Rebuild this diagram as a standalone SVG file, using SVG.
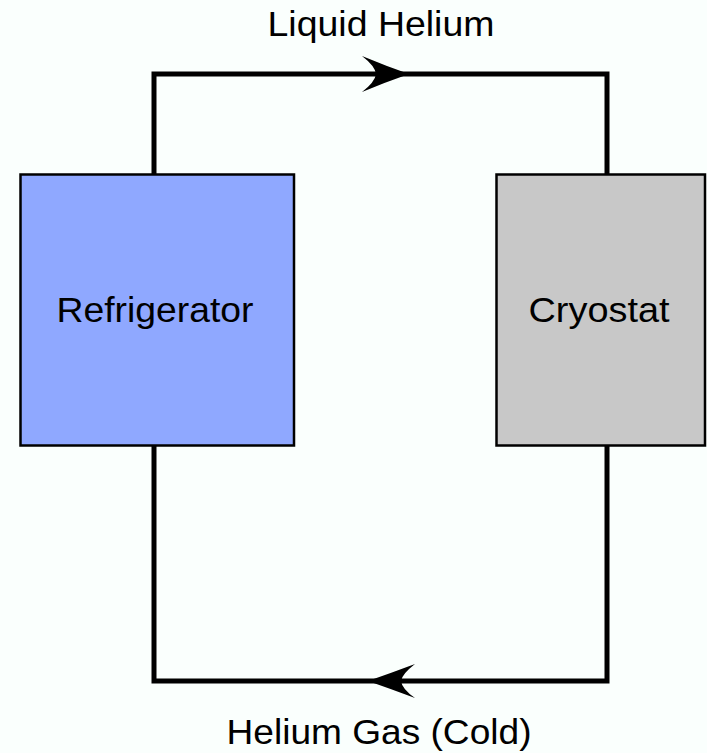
<svg xmlns="http://www.w3.org/2000/svg" width="707" height="753" viewBox="0 0 707 753">
<style>
.lbl{font-family:"Liberation Sans",Arial,Helvetica,sans-serif;font-size:35px;fill:#000;text-anchor:middle}
.box{stroke:#000;stroke-width:2.5}
.pipe{fill:none;stroke:#000;stroke-width:5;stroke-linejoin:miter}
.ah{fill:#000}
</style>
<rect width="707" height="753" fill="#FAFFFD"/>
<g id="connectors">
<path class="pipe" d="M154 174 V74 H607 V174"/>
<path class="pipe" d="M154 446 V681 H607 V446"/>
<path class="ah" d="M409 74 Q386 66 362 56 Q375 66 376 74 Q375 82 362 92 Q386 82 409 74 Z"/>
<path class="ah" d="M368 681 Q391 673 415 664 Q402 674 401 681 Q402 689 415 698 Q391 689 368 681 Z"/>
<text class="lbl" x="381" y="36" textLength="227" lengthAdjust="spacingAndGlyphs">Liquid Helium</text>
<text class="lbl" x="379" y="744" textLength="305" lengthAdjust="spacingAndGlyphs">Helium Gas (Cold)</text>
</g>
<g id="refrigerator">
<rect class="box" x="20.5" y="174.5" width="273.5" height="271" fill="#8FA8FF"/>
<text class="lbl" x="155" y="322" textLength="197" lengthAdjust="spacingAndGlyphs">Refrigerator</text>
</g>
<g id="cryostat">
<rect class="box" x="496.5" y="174.5" width="208.5" height="271" fill="#C8C8C8"/>
<text class="lbl" x="599" y="322" textLength="141" lengthAdjust="spacingAndGlyphs">Cryostat</text>
</g>
</svg>
